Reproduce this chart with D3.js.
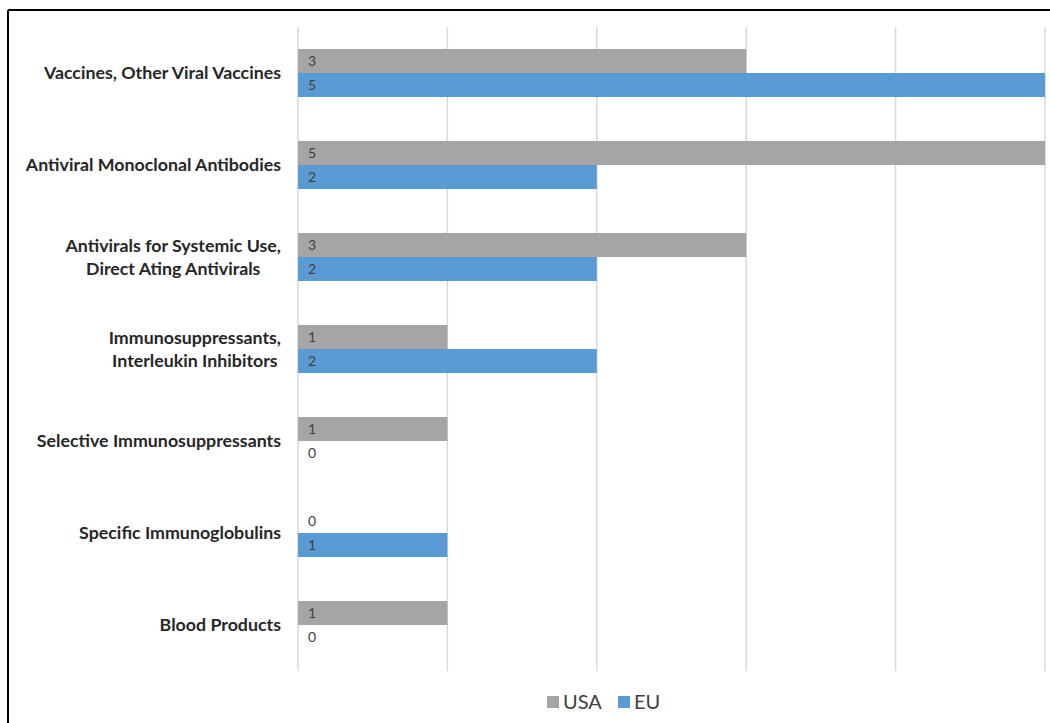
<!DOCTYPE html>
<html>
<head>
<meta charset="utf-8">
<script src="https://cdn.jsdelivr.net/npm/d3@7"></script>
<style>
  html, body { margin: 0; padding: 0; background: #fff; }
  svg { display: block; }
</style>
</head>
<body>
<svg id="chart" width="1050" height="723"></svg>
<script>
// Category labels (each entry is the list of lines shown on the axis)
const categories = [
  ["Vaccines, Other Viral Vaccines"],
  ["Antiviral Monoclonal Antibodies"],
  ["Antivirals for Systemic Use,", "Direct Ating Antivirals"],
  ["Immunosuppressants,", "Interleukin Inhibitors"],
  ["Selective Immunosuppressants"],
  ["Specific Immunoglobulins"],
  ["Blood Products"]
];
const seriesNames = ["USA", "EU"];
const usaValues = [3, 5, 3, 1, 1, 0, 1];
const euValues  = [5, 2, 2, 2, 0, 1, 0];
const xTicks = [0, 1, 2, 3, 4, 5];

const colors = { USA: "#a5a5a5", EU: "#5b9bd5" };
const valuesBySeries = { USA: usaValues, EU: euValues };

const svg = d3.select("#chart");
const W = 1050, H = 723;
const plot = { left: 298, right: 1045, top: 27, bottom: 671 };

// Frame lines (top and left edge)
svg.append("line").attr("x1", 8).attr("x2", W).attr("y1", 10).attr("y2", 10)
  .attr("stroke", "#000").attr("stroke-width", 2);
svg.append("line").attr("x1", 8).attr("x2", 8).attr("y1", 10).attr("y2", H)
  .attr("stroke", "#000").attr("stroke-width", 2);

const x = d3.scaleLinear().domain([0, 5]).range([plot.left, plot.right]);
const y = d3.scaleBand().domain(d3.range(categories.length))
  .range([plot.top, plot.bottom]).paddingInner(0.478).paddingOuter(0.239);
const ySub = d3.scaleBand().domain(seriesNames).range([0, y.bandwidth()]);

// Vertical gridlines
svg.append("g").selectAll("line").data(xTicks).join("line")
  .attr("x1", d => x(d)).attr("x2", d => x(d))
  .attr("y1", plot.top).attr("y2", plot.bottom)
  .attr("stroke", "#d9d9d9").attr("stroke-width", 1.5);

// Bars
const groups = svg.append("g").selectAll("g").data(categories).join("g")
  .attr("transform", (d, i) => `translate(0,${y(i)})`);

seriesNames.forEach(s => {
  groups.append("rect")
    .attr("x", x(0))
    .attr("y", ySub(s))
    .attr("width", (d, i) => x(valuesBySeries[s][i]) - x(0))
    .attr("height", ySub.bandwidth())
    .attr("fill", colors[s]);
  groups.append("text")
    .attr("x", x(0) + 10)
    .attr("y", ySub(s) + ySub.bandwidth() / 2)
    .attr("dy", "0.36em")
    .attr("font-family", "Lato, 'Open Sans', sans-serif")
    .attr("font-size", 14)
    .attr("fill", "#404040")
    .text((d, i) => valuesBySeries[s][i]);
});

// Category labels: block right-aligned to the axis, lines centred within the block
const labelRight = 281;
const lineH = 23;
const labels = svg.append("g").selectAll("g").data(categories).join("g");
labels.each(function (lines, i) {
  const g = d3.select(this);
  const texts = lines.map((line, k) => g.append("text")
    .attr("font-family", "Lato, 'Open Sans', sans-serif")
    .attr("font-weight", "bold")
    .attr("font-size", 17.8)
    .attr("fill", "#262626")
    .attr("text-anchor", "middle")
    .attr("dy", "0.35em")
    .attr("y", y(i) + y.bandwidth() / 2 + (k - (lines.length - 1) / 2) * lineH)
    .text(line));
  const maxW = d3.max(texts, t => t.node().getComputedTextLength());
  texts.forEach(t => t.attr("x", labelRight - maxW / 2));
});

// Legend
const legend = svg.append("g").attr("transform", "translate(547,702)");
const legendItems = [
  { name: "USA", x: 0 },
  { name: "EU", x: 71 }
];
legendItems.forEach(it => {
  legend.append("rect").attr("x", it.x).attr("y", -6).attr("width", 12).attr("height", 12)
    .attr("fill", colors[it.name]);
  legend.append("text").attr("x", it.x + 16).attr("y", 0).attr("dy", "0.36em")
    .attr("font-family", "Lato, 'Open Sans', sans-serif")
    .attr("font-size", 20).attr("fill", "#404040")
    .text(it.name);
});
</script>
</body>
</html>
